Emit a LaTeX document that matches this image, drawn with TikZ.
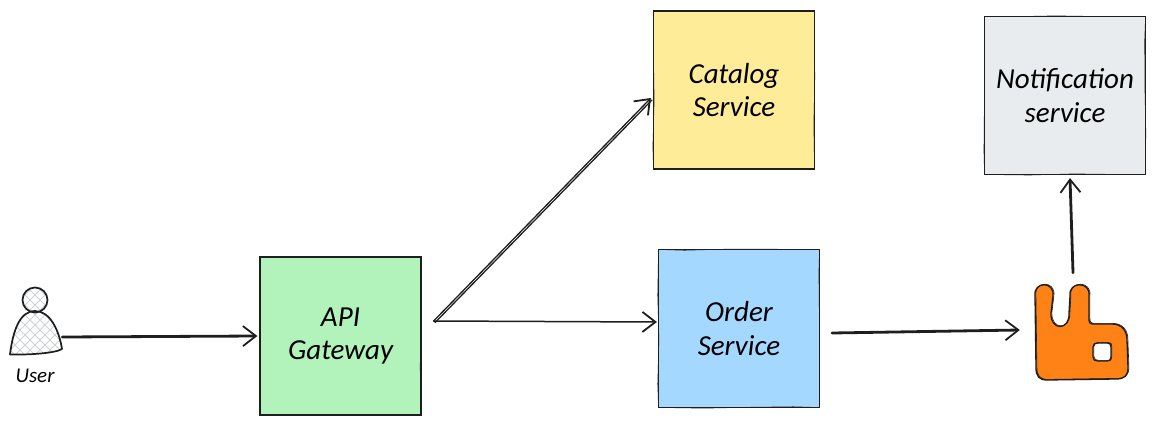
\documentclass[tikz,border=0pt]{standalone}
\usepackage{fontspec}
\setmainfont{Carlito}
\usetikzlibrary{arrows.meta,calc,decorations.pathmorphing}
\definecolor{ink}{HTML}{1E1E1E}
\definecolor{gwgreen}{HTML}{B2F2BB}
\definecolor{catyellow}{HTML}{FFEC99}
\definecolor{ordblue}{HTML}{A5D8FF}
\definecolor{notgray}{HTML}{E9ECEF}
\definecolor{rabbit}{HTML}{FF8217}
\definecolor{hatch}{HTML}{CDD1D9}
\newcommand{\rabbitpath}{
  (1035,296) .. controls (1033,281) and (1055,281) .. (1053,296)
  -- (1051,313) .. controls (1050,331) and (1070,331) .. (1069,313)
  -- (1070,296) .. controls (1068,281) and (1091,281) .. (1089,296)
  -- (1089,319) .. controls (1089,323) and (1090,324) .. (1094,324)
  -- (1112,324) .. controls (1122,324) and (1127,331) .. (1127,340)
  -- (1128,368) .. controls (1128,376) and (1124,379) .. (1116,379)
  -- (1047,380) .. controls (1039,380) and (1036,376) .. (1036,368) -- cycle
  (1098,343) -- (1107,343) .. controls (1110,343) and (1111,344) .. (1111,347)
  -- (1111,357) .. controls (1111,360) and (1110,361) .. (1107,361)
  -- (1098,361) .. controls (1095,361) and (1093,360) .. (1093,357)
  -- (1093,347) .. controls (1093,344) and (1095,343) .. (1098,343) -- cycle}
\tikzset{
  x=1pt,y=-1pt,
  rough/.style={postaction={draw=ink,line width=.5pt,decorate,decoration={random steps,segment length=45pt,amplitude=.8pt}}},
  svcbox/.style={draw=ink,line width=1.2pt,rough,minimum width=161pt,minimum height=158pt,inner sep=0pt,align=center,
    font=\fontsize{29}{33.5}\selectfont\itshape,text=black},
  conn/.style={draw=ink,line cap=round,-{Straight Barb[length=13pt,width=20pt,line width=1.8pt]}},
  heavy/.style={conn,line width=2.8pt},
  light/.style={conn,line width=1.5pt},
  sketch/.style={draw=ink,line width=1.7pt,line join=round},
}
\begin{document}
\begin{tikzpicture}
\pgfmathsetseed{7}
\useasboundingbox (0,0) rectangle (1155,425);
\fill[white] (0,0) rectangle (1155,425);

\node[svcbox,fill=gwgreen] (gw) at (340.5,336) {API\\Gateway};
\node[svcbox,fill=catyellow] (cat) at (734,90) {Catalog\\Service};
\node[svcbox,fill=ordblue] (ord) at (739,328.5) {Order\\Service};
\node[svcbox,fill=notgray] (notif) at (1065,95.5) {Notification\\service};
\node[minimum width=93pt,minimum height=95pt,inner sep=0pt] (mq) at (1081.5,333) {};
\node[minimum width=54pt,minimum height=68pt,inner sep=0pt] (user) at (36,321) {};
\node[font=\fontsize{21}{24}\selectfont\itshape,text=black,inner sep=0pt] (ulabel) at (35,376) {User};

% user icon
\begin{scope}
  \path[clip] (10,354.5) .. controls (13,330) and (20,311) .. (35,311) .. controls (50,311) and (59,330) .. (62,349) .. controls (56,353) and (30,355) .. (10,354.5) -- cycle;
  \fill[white] (0,300) rectangle (70,360);
  \foreach \k in {-8,...,16} {
    \draw[hatch,line width=1pt] (\k*10,360) -- ++(70,-70);
    \draw[hatch,line width=1pt] (\k*10-40,290) -- ++(70,70);
  }
\end{scope}
\begin{scope}
  \path[clip] (35,300) circle (12.5);
  \fill[white] (20,285) rectangle (50,315);
  \foreach \k in {0,...,8} {
    \draw[hatch,line width=1pt] (\k*10,320) -- ++(-40,-40);
    \draw[hatch,line width=1pt] (\k*10-10,280) -- ++(-40,40);
  }
\end{scope}
\draw[sketch] (35,300) circle (12.5);
\draw[sketch] (10,354.5) .. controls (13,330) and (20,311) .. (35,311) .. controls (50,311) and (59,330) .. (62,349) .. controls (56,353) and (30,355) .. (10,354.5) -- cycle;

% rabbit icon
\path[fill=rabbit,even odd rule] \rabbitpath;
\path[draw=ink,line width=1.3pt,line join=round] \rabbitpath;
\begin{scope}[shift={(.9,-.6)}]
\path[draw=ink,line width=.6pt,line join=round] \rabbitpath;
\end{scope}

% connectors
\coordinate (fork) at ($(gw.east)+(12,-15)$);
\draw[heavy] (user.east |- 0,337) ++(-1,0) -- ($(gw.west)+(-2,0)$);
\draw[conn,line width=1.3pt] (fork) -- ($(cat.west)+(-2,8)$);
\draw[draw=ink,line width=1.3pt,line cap=round] ($(fork)+(1.5,1.5)$) -- ($(cat.west)+(-1,10)$);
\draw[light] (fork) -- ($(ord.west)+(-1,-6.5)$);
\draw[heavy] ($(ord.east)+(12,4.5)$) -- ($(mq.west)+(-15,-3)$);
\draw[heavy] ($(mq.north)+(-8.5,-12.5)$) -- ($(notif.south)+(5,3)$);
\end{tikzpicture}
\end{document}
